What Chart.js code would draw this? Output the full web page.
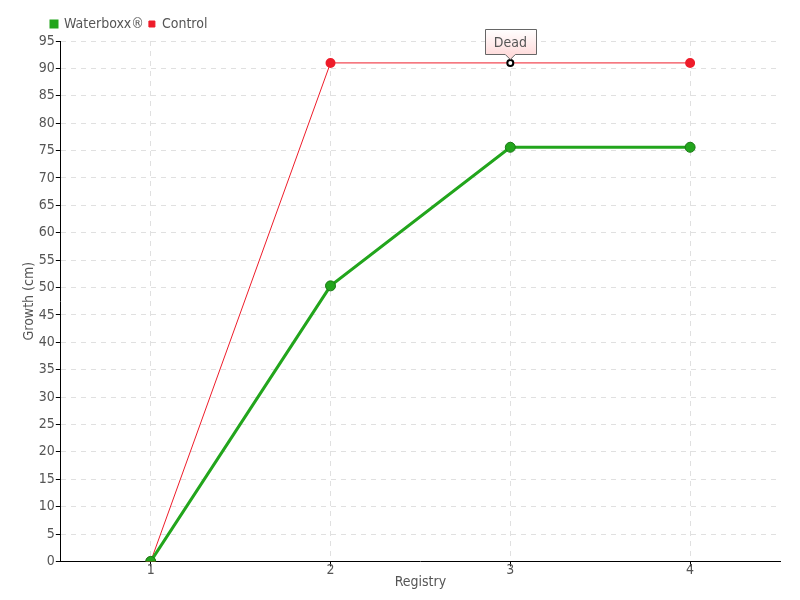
<!DOCTYPE html>
<html>
<head>
<meta charset="utf-8">
<script src="https://cdn.jsdelivr.net/npm/chart.js@4/dist/chart.umd.min.js"></script>
<style>
  html, body { margin: 0; padding: 0; background: #fff; }
  #wrap { width: 800px; height: 600px; }
</style>
</head>
<body>
<div id="wrap"><canvas id="growth-chart"></canvas></div>
<script>
"use strict";

const registry = ["1", "2", "3", "4"];
const waterboxx = [0, 50.3, 75.6, 75.6];
const control = [0, 91, 91, 91];
const yTicks = [0, 5, 10, 15, 20, 25, 30, 35, 40, 45, 50, 55, 60, 65, 70, 75, 80, 85, 90, 95];
const deadIndex = 2;
const deadLabel = "Dead";

const fontName = "'DejaVu Sans Condensed', 'DejaVu Sans', sans-serif";

// box with "Dead" over the control point
const deadNote = {
    id: "deadNote",
    beforeDraw(chart) {
        // legend sits a bit to the right, near the y axis
        chart.legend.left = 46;
    },
    afterDatasetsDraw(chart) {
        const pt = chart.getDatasetMeta(1).data[deadIndex];
        const ctx = chart.ctx;
        ctx.save();
        ctx.font = "14px " + fontName;
        const w = Math.round(ctx.measureText(deadLabel).width + 18);
        const h = 25;
        const x = Math.round(pt.x - w / 2) + 0.5;
        const y = Math.round(pt.y - h - 9) + 0.5;
        const grad = ctx.createLinearGradient(0, y, 0, y + h);
        grad.addColorStop(0, "#ffffff");
        grad.addColorStop(1, "#ffdcdc");
        ctx.beginPath();
        ctx.moveTo(x, y);
        ctx.lineTo(x + w, y);
        ctx.lineTo(x + w, y + h);
        ctx.lineTo(pt.x + 5, y + h);
        ctx.lineTo(pt.x, y + h + 5);
        ctx.lineTo(pt.x - 5, y + h);
        ctx.lineTo(x, y + h);
        ctx.closePath();
        ctx.fillStyle = grad;
        ctx.fill();
        ctx.strokeStyle = "#666";
        ctx.lineWidth = 1;
        ctx.stroke();
        ctx.fillStyle = "#555";
        ctx.textAlign = "center";
        ctx.textBaseline = "middle";
        ctx.fillText(deadLabel, pt.x, y + h / 2 + 1);
        ctx.restore();
    },
};

const controlPointBg = control.map((v, i) => (i === deadIndex ? "#ffffff" : "#ee1c2a"));
const controlPointBorder = control.map((v, i) => (i === deadIndex ? "#000000" : "#ee1c2a"));
const controlPointRadius = control.map((v, i) => (i === deadIndex ? 3 : 4));

new Chart(document.getElementById("growth-chart"), {
    type: "line",
    data: {
        labels: registry,
        datasets: [
            {
                label: "Waterboxx®",
                data: waterboxx,
                borderColor: "#22a51c",
                backgroundColor: "#22a51c",
                borderWidth: 3,
                pointRadius: 5,
                pointBackgroundColor: "#22a51c",
                pointBorderColor: "#1a7a16",
                pointBorderWidth: 1,
                tension: 0,
            },
            {
                label: "Control",
                data: control,
                borderColor: "#ee1c2a",
                backgroundColor: "#ee1c2a",
                borderWidth: 1,
                pointRadius: controlPointRadius,
                pointBackgroundColor: controlPointBg,
                pointBorderColor: controlPointBorder,
                pointBorderWidth: 2,
                tension: 0,
            },
        ],
    },
    options: {
        responsive: true,
        maintainAspectRatio: false,
        animation: false,
        layout: { padding: { left: 21, right: 20, top: 12, bottom: 9 } },
        scales: {
            x: {
                offset: true,
                grid: {
                    color: "#e0e0e0",
                    tickColor: "#000",
                    tickLength: 5,
                    offset: false,
                },
                border: { color: "#000", width: 1, dash: [5, 5] },
                ticks: { color: "#555", font: { family: fontName, size: 14 }, padding: -4 },
                title: {
                    display: true,
                    text: "Registry",
                    color: "#555",
                    font: { family: fontName, size: 14 },
                    padding: { top: -1, bottom: 0 },
                },
            },
            y: {
                min: 0,
                max: 95,
                afterBuildTicks(axis) {
                    axis.ticks = yTicks.map((v) => ({ value: v }));
                },
                grid: {
                    color: "#e0e0e0",
                    tickColor: "#000",
                    tickLength: 5,
                },
                border: { color: "#000", width: 1, dash: [5, 5] },
                ticks: { color: "#555", font: { family: fontName, size: 14 }, padding: 1 },
                title: {
                    display: true,
                    text: "Growth (cm)",
                    color: "#555",
                    font: { family: fontName, size: 14 },
                    padding: 0,
                },
            },
        },
        plugins: {
            legend: {
                position: "top",
                align: "start",
                labels: {
                    boxWidth: 6,
                    boxHeight: 6,
                    color: "#555",
                    font: { family: fontName, size: 14 },
                    padding: 5,
                },
            },
            tooltip: { enabled: false },
        },
    },
    plugins: [deadNote],
});
</script>
</body>
</html>
